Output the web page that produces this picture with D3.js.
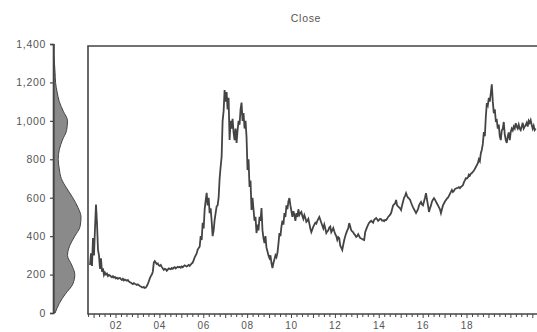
<!DOCTYPE html>
<html>
<head>
<meta charset="utf-8">
<script src="https://cdn.jsdelivr.net/npm/d3@7"></script>
<style>
  html, body { margin: 0; padding: 0; background: #fff; }
  svg { display: block; }
  text { font-family: "Liberation Sans", Arial, sans-serif; fill: #555; letter-spacing: 0.7px; }
</style>
</head>
<body>
<svg id="chart" width="537" height="332"></svg>
<script>
// Series title
const title = "Close";

// Closing prices sampled every 16.6 days, first observation late Oct 2000
const startYear = 2000.815;
const stepDays = 16.6;
const closes = [
  250, 310, 245, 390, 300, 440, 565, 470, 330, 300,
  230, 285, 215, 232, 198, 210, 200, 205, 192, 198,
  195, 190, 186, 192, 185, 188, 180, 184, 178, 181,
  182, 176, 172, 178, 170, 174, 171, 168, 172, 164,
  160, 158, 153, 150, 155, 152, 150, 146, 149, 145,
  140, 138, 135, 133, 136, 130, 132, 140, 152, 165,
  180, 192, 200, 215, 262, 270, 262, 255, 258, 248,
  245, 250, 240, 232, 225, 230, 228, 220, 226, 232,
  230, 228, 234, 230, 235, 238, 232, 236, 240, 238,
  240, 236, 242, 238, 244, 248, 245, 242, 246, 250,
  245, 252, 258, 262, 275, 290, 300, 310, 330, 338,
  345, 400, 380, 470, 440, 540, 585, 625, 560, 600,
  520, 545, 480, 400, 430, 485, 520, 555, 560, 600,
  700, 760, 812, 1000, 1050, 1160, 1100, 1150, 1060, 1120,
  900, 1000, 960, 1010, 940, 900, 960, 885, 950, 1000,
  980, 1060, 1095, 1000, 1040, 960, 1000, 916, 744, 800,
  656, 690, 536, 600, 540, 480, 500, 416, 460, 430,
  500, 480, 546, 430, 390, 364, 400, 340, 320, 300,
  286, 300, 260, 234, 260, 280, 300, 290, 312, 360,
  416, 400, 450, 480, 460, 520, 500, 560, 540, 580,
  598, 560, 530, 500, 530, 510, 480, 520, 500, 540,
  510, 520, 526, 505, 490, 510, 495, 474, 480, 490,
  465, 440, 421, 435, 450, 460, 470, 465, 480, 490,
  500, 485, 470, 455, 440, 460, 440, 416, 425, 430,
  445, 450, 420, 430, 442, 425, 410, 400, 380, 395,
  390, 350, 340, 328, 355, 380, 400, 416, 430, 440,
  468, 450, 430, 425, 420, 410, 405, 396, 400, 410,
  400, 390, 388, 385, 382, 380, 420, 435, 448, 460,
  470, 475, 480, 475, 470, 485, 490, 494, 488, 480,
  485, 490, 488, 480, 482, 478, 484, 484, 490, 500,
  505, 512, 520, 540, 560, 565, 570, 588, 560, 555,
  550, 545, 536, 560, 580, 600, 610, 624, 610, 600,
  595, 590, 575, 562, 550, 540, 530, 520, 530, 540,
  560, 570, 578, 565, 560, 580, 600, 624, 590, 560,
  526, 545, 560, 580, 590, 598, 590, 580, 570, 560,
  550, 540, 520, 540, 560, 570, 580, 588, 595, 600,
  610, 620, 630, 640, 630, 635, 645, 648, 650, 652,
  655, 650, 656, 660, 665, 680, 690, 702, 700, 705,
  720, 715, 725, 728, 735, 740, 750, 760, 770, 780,
  800, 790, 832, 850, 880, 942, 920, 1020, 1092, 1080,
  1120, 1100, 1145, 1190, 1100, 1040, 1060, 1000, 1004, 960,
  980, 920, 900, 950, 960, 994, 930, 900, 885, 920,
  940, 900, 942, 960, 950, 970, 960, 988, 970, 960,
  980, 960, 952, 970, 990, 960, 970, 978, 990, 970,
  1000, 990, 1004, 980, 960, 975, 952, 960
];

// Kernel density of the closes (per 1,000 units of price), evaluated at price levels
const densityLevels = [0, 50, 100, 150, 200, 250, 300, 350, 400, 450, 500, 550, 600, 650, 700,
  750, 800, 850, 900, 950, 1000, 1050, 1100, 1150, 1200, 1250, 1300, 1350, 1400];
const densityValues = [0.07, 0.34, 0.74, 1.21, 1.34, 1.14, 0.87, 1.01, 1.34, 1.68, 1.74, 1.54, 1.21, 0.81, 0.47,
  0.34, 0.27, 0.34, 0.54, 0.81, 0.87, 0.60, 0.34, 0.20, 0.10, 0.07, 0.03, 0, 0];

// Axis ticks
const yTicks = [0, 200, 400, 600, 800, 1000, 1200, 1400];
const xTickYears = [2002, 2004, 2006, 2008, 2010, 2012, 2014, 2016, 2018];

const svg = d3.select("#chart");
const ink = "#444";

// Layout
const plotLeft = 88, plotRight = 545, plotTop = 46, plotBottom = 314;
const densAxisX = 53;

// Shared price scale
const y = d3.scaleLinear().domain([0, 1400]).range([313, 44]);
// Time scale (decimal years)
const x = d3.scaleLinear().domain([2002, 2018]).range([116, 467]);
// Density width scale
const dx = d3.scaleLinear().domain([0, 1.74]).range([densAxisX + 1, densAxisX + 28]);

// Title
svg.append("text")
  .attr("x", 306).attr("y", 22)
  .attr("text-anchor", "middle")
  .attr("font-size", 10.5)
  .text(title);

// Density panel
const densData = densityLevels.map((v, i) => ({ v, d: densityValues[i] }));
svg.append("path")
  .datum(densData)
  .attr("fill", "#8a8a8a")
  .attr("stroke", ink)
  .attr("stroke-width", 1)
  .attr("d", d3.area()
    .y(p => y(p.v))
    .x0(dx(0))
    .x1(p => dx(p.d))
    .curve(d3.curveMonotoneY));

const yAxis = svg.append("g")
  .attr("transform", `translate(${densAxisX},0)`)
  .call(d3.axisLeft(y).tickValues(yTicks).tickFormat(d3.format(",")).tickSize(3).tickPadding(4));
yAxis.select(".domain").attr("stroke", ink).attr("stroke-width", 1.6);
yAxis.selectAll(".tick line").attr("stroke", ink).attr("stroke-width", 1.2);
yAxis.selectAll(".tick text").attr("font-size", 10.5).attr("fill", "#555")
  .style("font-family", '"Liberation Sans", Arial, sans-serif');

// Main plot frame
svg.append("path")
  .attr("fill", "none")
  .attr("stroke", ink)
  .attr("stroke-width", 1.6)
  .attr("d", `M${plotRight},${plotTop}H${plotLeft}V${plotBottom}H${plotRight}`);

// Quarterly ticks on the time axis
const quarterTicks = d3.range(Math.ceil(x.invert(plotLeft) * 4), Math.floor(x.invert(plotRight) * 4) + 1).map(q => q / 4);
svg.append("g").selectAll("line")
  .data(quarterTicks)
  .join("line")
  .attr("x1", d => x(d)).attr("x2", d => x(d))
  .attr("y1", plotBottom)
  .attr("y2", d => plotBottom + (Number.isInteger(d) ? 4 : 3))
  .attr("stroke", ink)
  .attr("stroke-width", 1);

svg.append("g").selectAll("text")
  .data(xTickYears)
  .join("text")
  .attr("x", d => x(d))
  .attr("y", 329)
  .attr("text-anchor", "middle")
  .attr("font-size", 10)
  .text(d => String(d % 100).padStart(2, "0"));

// Price line
const series = closes.map((c, i) => ({ t: startYear + i * stepDays / 365.25, c }));
svg.append("path")
  .datum(series)
  .attr("fill", "none")
  .attr("stroke", ink)
  .attr("stroke-width", 1.8)
  .attr("stroke-linejoin", "miter")
  .attr("d", d3.line().x(p => x(p.t)).y(p => y(p.c)));
</script>
</body>
</html>
